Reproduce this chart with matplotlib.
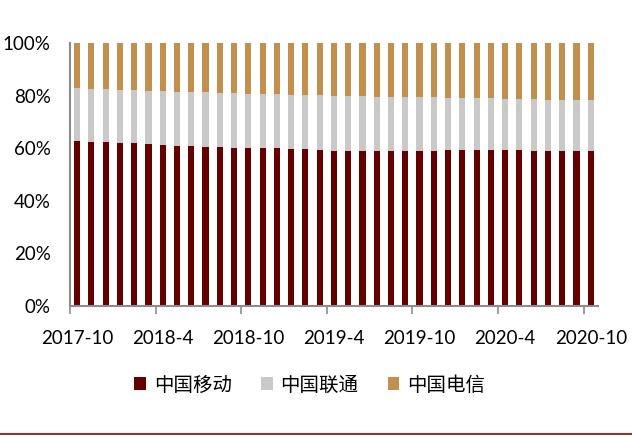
import matplotlib
matplotlib.use("Agg")
import matplotlib.pyplot as plt
from matplotlib.lines import Line2D
import numpy as np

# 月份: 2017-10 ... 2020-10
months = [f"{y}-{m}" for y in range(2017, 2021) for m in range(1, 13)
          if (y, m) >= (2017, 10) and (y, m) <= (2020, 10)]

# 份额 (%)
mobile = [62.6, 62.5, 62.4, 62.1, 61.9, 61.6, 61.3, 61.0, 60.7, 60.6,
          60.3, 60.2, 60.1, 60.0, 59.9, 59.7, 59.6, 59.3, 59.1, 59.1,
          59.1, 59.1, 59.1, 59.1, 59.1, 59.1, 59.2, 59.2, 59.5, 59.4,
          59.4, 59.2, 59.1, 59.1, 59.1, 59.1, 59.0]
unicom = [20.2, 20.0, 20.1, 20.2, 20.2, 20.3, 20.4, 20.4, 20.5, 20.6,
          20.6, 20.7, 20.6, 20.6, 20.6, 20.7, 20.6, 20.8, 20.9, 20.8,
          20.6, 20.5, 20.5, 20.5, 20.4, 20.2, 20.0, 20.0, 19.7, 19.5,
          19.4, 19.5, 19.5, 19.3, 19.2, 19.2, 19.2]
telecom = [17.2, 17.5, 17.5, 17.7, 17.9, 18.1, 18.3, 18.6, 18.8, 18.8,
           19.1, 19.1, 19.3, 19.4, 19.5, 19.6, 19.8, 19.9, 20.0, 20.1,
           20.3, 20.4, 20.4, 20.4, 20.5, 20.7, 20.8, 20.8, 20.8, 21.1,
           21.2, 21.3, 21.4, 21.6, 21.7, 21.7, 21.8]
names = ["中国移动", "中国联通", "中国电信"]
tick_labels = ["2017-10", "2018-4", "2018-10", "2019-4", "2019-10", "2020-4", "2020-10"]
y_labels = ["0%", "20%", "40%", "60%", "80%", "100%"]

colors = ["#650000", "#C9C9C9", "#C18F4E"]

fig = plt.figure(figsize=(6.32, 4.37), dpi=100)
ax = fig.add_axes([0.1108, 0.2998, 0.946 - 0.1108, 0.9016 - 0.2998])

x = np.arange(len(months))
m = np.array(mobile)
u = np.array(unicom)
t = np.array(telecom)
total = m + u + t
m, u, t = m / total * 100, u / total * 100, t / total * 100

ax.bar(x, m, width=0.43, color=colors[0], label=names[0])
ax.bar(x, u, width=0.43, bottom=m, color=colors[1], label=names[1])
ax.bar(x, t, width=0.43, bottom=m + u, color=colors[2], label=names[2])

ax.set_xlim(-0.5, len(months) - 0.5)
ax.set_ylim(0, 100)

# 刻度线在类别之间, 标签在类别中间
ax.set_xticks(np.arange(-0.5, len(months), 6))
ax.set_xticklabels([])
ax.set_xticks(np.arange(0, len(months), 6), minor=True)
ax.set_xticklabels(tick_labels, minor=True, fontfamily="Lato", fontsize=13.5)
ax.tick_params(axis="x", which="major", length=6, width=1.2, color="#8C8C8C")
ax.tick_params(axis="x", which="minor", length=0, pad=17)

ax.set_yticks(np.arange(0, 101, 20))
ax.set_yticklabels(y_labels, fontfamily="Lato", fontsize=13.5)
ax.tick_params(axis="y", length=0, pad=14)

for s in ["top", "right"]:
    ax.spines[s].set_visible(False)
for s in ["left", "bottom"]:
    ax.spines[s].set_color("#8C8C8C")
    ax.spines[s].set_linewidth(1.5)

fig.legend(loc="center", bbox_to_anchor=(0.49, 0.119), ncol=3, frameon=False,
           prop={"family": ["Noto Sans CJK SC", "DejaVu Sans"], "size": 14},
           handlelength=0.6, handleheight=0.6, handletextpad=0.4, columnspacing=1.5)

# 底部装饰线
fig.add_artist(Line2D([0, 1], [0.007, 0.007], color="#8B3535", linewidth=1.5,
                      transform=fig.transFigure))

fig.savefig("out.png", dpi=100)
